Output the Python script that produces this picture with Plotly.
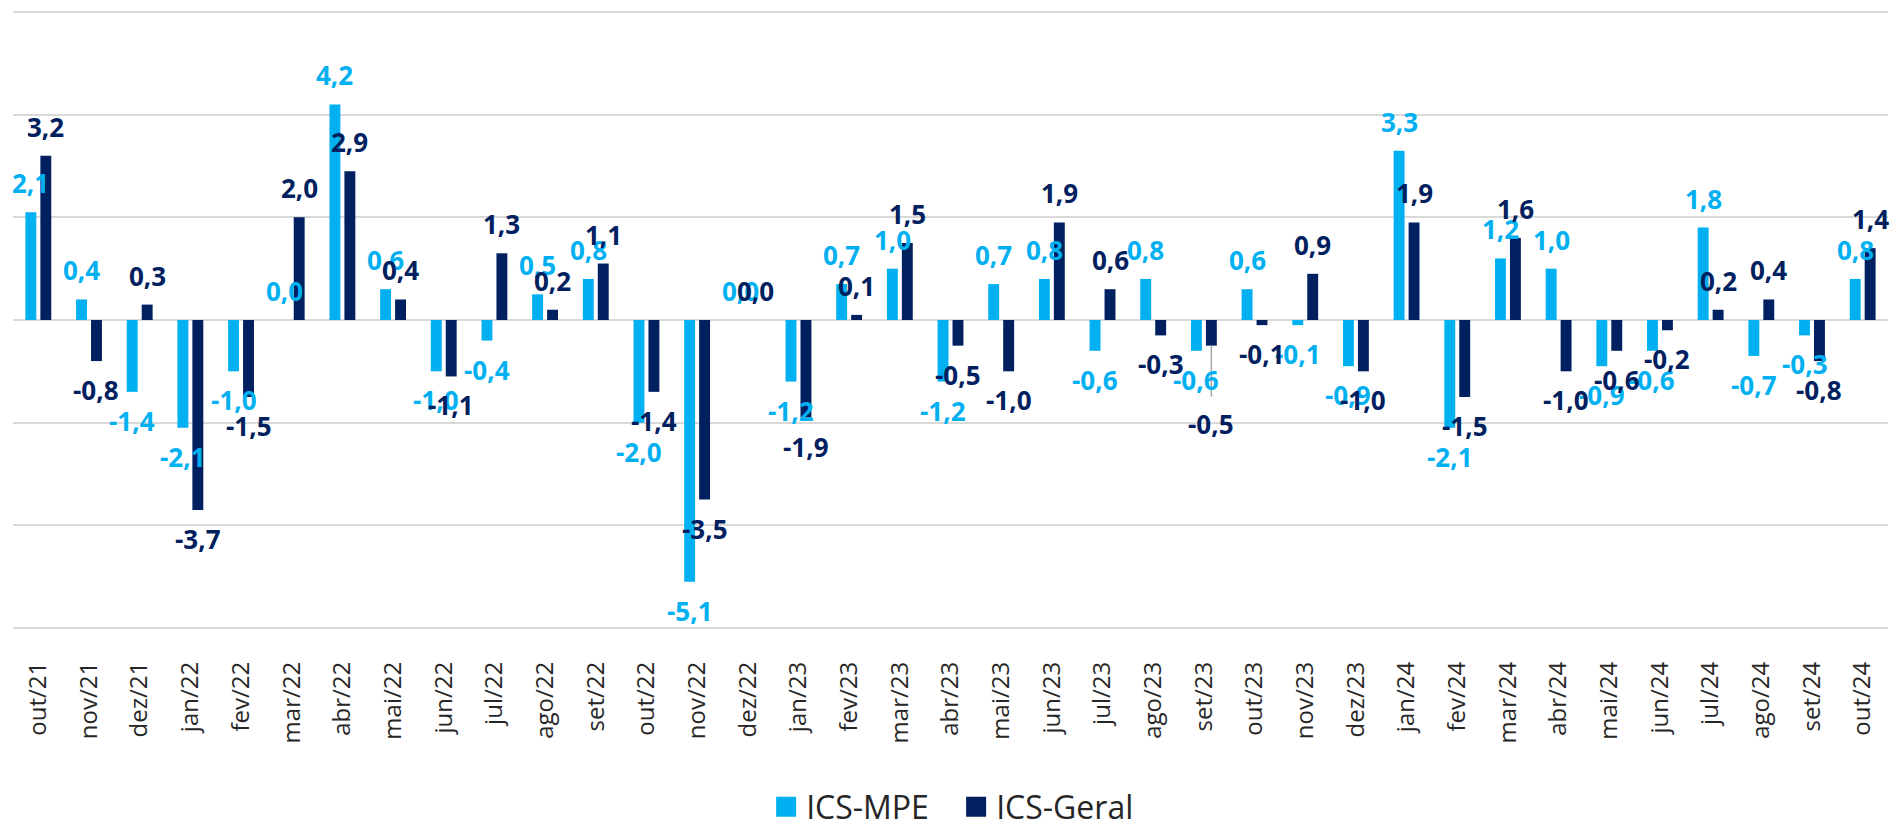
import plotly.graph_objects as go

categories = ["out/21", "nov/21", "dez/21", "jan/22", "fev/22", "mar/22", "abr/22", "mai/22",
              "jun/22", "jul/22", "ago/22", "set/22", "out/22", "nov/22", "dez/22", "jan/23",
              "fev/23", "mar/23", "abr/23", "mai/23", "jun/23", "jul/23", "ago/23", "set/23",
              "out/23", "nov/23", "dez/23", "jan/24", "fev/24", "mar/24", "abr/24", "mai/24",
              "jun/24", "jul/24", "ago/24", "set/24", "out/24"]

ics_mpe = [2.1, 0.4, -1.4, -2.1, -1.0, 0.0, 4.2, 0.6, -1.0, -0.4, 0.5, 0.8, -2.0, -5.1, 0.0, -1.2,
           0.7, 1.0, -1.2, 0.7, 0.8, -0.6, 0.8, -0.6, 0.6, -0.1, -0.9, 3.3, -2.1, 1.2, 1.0, -0.9,
           -0.6, 1.8, -0.7, -0.3, 0.8]

ics_geral = [3.2, -0.8, 0.3, -3.7, -1.5, 2.0, 2.9, 0.4, -1.1, 1.3, 0.2, 1.1, -1.4, -3.5, 0.0, -1.9,
             0.1, 1.5, -0.5, -1.0, 1.9, 0.6, -0.3, -0.5, -0.1, 0.9, -1.0, 1.9, -1.5, 1.6, -1.0, -0.6,
             -0.2, 0.2, 0.4, -0.8, 1.4]

y_ticks = [-6, -4, -2, 0, 2, 4, 6]

# ---- style ----
C_MPE = "#00B0F0"
C_GERAL = "#002060"
W, H = 1891, 828
PAD = 0.06                       # small range padding so edge gridlines are drawn
M_L, M_R, M_T, M_B = 13, 3, 9, 197
BARGAP = 0.41
BARGROUPGAP = 0.27
GAP_POS = 9   # px above positive bar end
GAP_NEG = 9   # px below negative bar end
LEGEND_CENTER_PX = 807

plot_w = W - M_L - M_R
plot_h = H - M_T - M_B
cat_w = plot_w / len(categories)
px_per_unit = plot_h / (y_ticks[-1] - y_ticks[0] + 2 * PAD)
slot = (1 - BARGAP) * cat_w / 2
bar_off = slot / 2

# manual nudge for a label moved in the original (with leader line)
label_nudges = {("ICS-Geral", "set/23"): 49}

fig = go.Figure()
fig.add_trace(go.Bar(x=categories, y=ics_mpe, name="ICS-MPE", marker_color=C_MPE,
                     marker_line_width=0, showlegend=False))
fig.add_trace(go.Bar(x=categories, y=ics_geral, name="ICS-Geral", marker_color=C_GERAL,
                     marker_line_width=0, showlegend=False))

# legend entries with square symbols
for name, col in [("ICS-MPE", C_MPE), ("ICS-Geral", C_GERAL)]:
    fig.add_trace(go.Scatter(x=[None], y=[None], mode="markers", name=name,
                             marker=dict(symbol="square", size=16, color=col,
                                         line=dict(color=col, width=4))))

annotations = []
shapes = []
for series, vals, col, sign in [("ICS-MPE", ics_mpe, C_MPE, -1), ("ICS-Geral", ics_geral, C_GERAL, 1)]:
    for cat, v in zip(categories, vals):
        txt = f"{v:.1f}".replace(".", ",")
        nudge = label_nudges.get((series, cat), 0)
        if v >= 0:
            yanchor, ysh = "bottom", GAP_POS + nudge
        else:
            yanchor, ysh = "top", -GAP_NEG - nudge
        annotations.append(dict(x=cat, y=v, xref="x", yref="y", text=txt, showarrow=False,
                                xshift=sign * bar_off, yshift=ysh, yanchor=yanchor,
                                xanchor="center",
                                font=dict(family="Open Sans", size=26, color=col, weight="bold")))
        if nudge:
            idx = categories.index(cat)
            xc = idx + sign * bar_off / cat_w
            shapes.append(dict(type="line", xref="x", yref="y", x0=xc, x1=xc,
                               y0=v, y1=v - (nudge + 2) / px_per_unit,
                               line=dict(color="#A6A6A6", width=1.5)))

fig.update_layout(
    width=W, height=H,
    margin=dict(l=M_L, r=M_R, t=M_T, b=M_B, autoexpand=False),
    paper_bgcolor="white", plot_bgcolor="white",
    barmode="group", bargap=BARGAP, bargroupgap=BARGROUPGAP,
    annotations=annotations, shapes=shapes,
    showlegend=True,
    legend=dict(orientation="h", x=0.503, xanchor="center",
                y=(H - M_B - LEGEND_CENTER_PX) / plot_h, yanchor="middle",
                font=dict(family="Open Sans", size=32, color="#262626"),
                entrywidth=145, itemsizing="trace", traceorder="normal"),
    xaxis=dict(tickangle=-90, tickfont=dict(family="Open Sans", size=24, color="#262626"),
               showgrid=False, zeroline=False, showline=False, ticks="",
               ticklabelstandoff=25, automargin=False,
               range=[-0.5, len(categories) - 0.5]),
    yaxis=dict(range=[y_ticks[0] - PAD, y_ticks[-1] + PAD], tickvals=y_ticks,
               showticklabels=False, automargin=False,
               showgrid=True, gridcolor="#D9D9D9", gridwidth=2,
               zeroline=True, zerolinecolor="#D9D9D9", zerolinewidth=2),
)

fig.write_html("out.html", config={"displayModeBar": False},
               post_script="document.body.style.margin='0';document.body.style.overflow='hidden';")
